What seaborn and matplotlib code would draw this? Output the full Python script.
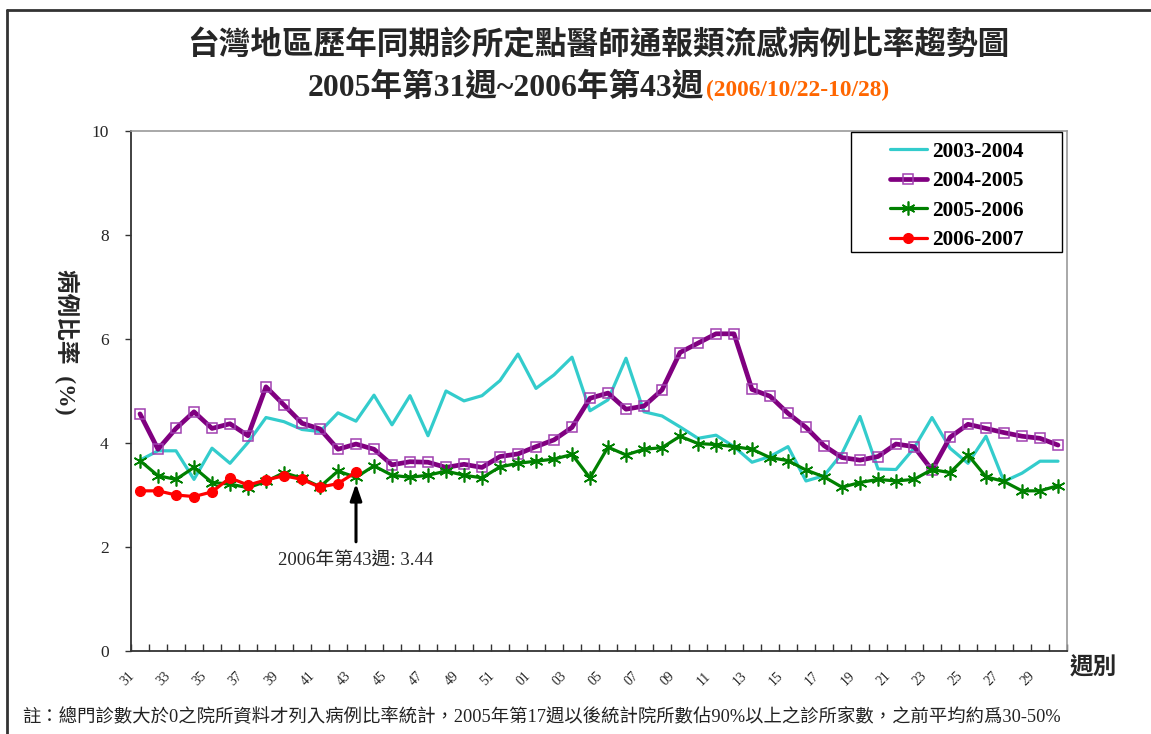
import numpy as np
import pandas as pd
import matplotlib
matplotlib.use("Agg")
import matplotlib.pyplot as plt
import seaborn as sns
from matplotlib.lines import Line2D
from matplotlib.patches import Rectangle
from matplotlib.transforms import ScaledTranslation

# ---------------- data ----------------
weeks = [f"{w:02d}" for w in list(range(31, 53)) + list(range(1, 31))]
tick_labels = weeks[::2]

s2003_2004 = [3.67, 3.85, 3.85, 3.30, 3.90, 3.61, 4.01, 4.49, 4.41, 4.26, 4.22, 4.58, 4.42,
              4.92, 4.35, 4.91, 4.14, 5.00, 4.81, 4.91, 5.20, 5.71, 5.05, 5.31, 5.65, 4.62,
              4.83, 5.63, 4.60, 4.52, 4.31, 4.09, 4.15, 3.93, 3.63, 3.74, 3.93, 3.27, 3.37,
              3.80, 4.51, 3.50, 3.49, 3.90, 4.49, 3.90, 3.61, 4.13, 3.26, 3.42, 3.65, 3.65]
s2004_2005 = [4.56, 3.88, 4.28, 4.60, 4.28, 4.37, 4.14, 5.08, 4.73, 4.38, 4.27, 3.88, 3.98,
              3.88, 3.58, 3.64, 3.63, 3.53, 3.59, 3.53, 3.74, 3.79, 3.93, 4.06, 4.30, 4.86,
              4.96, 4.65, 4.71, 5.02, 5.74, 5.92, 6.10, 6.10, 5.03, 4.90, 4.57, 4.30, 3.95,
              3.72, 3.67, 3.74, 3.98, 3.93, 3.48, 4.11, 4.36, 4.28, 4.20, 4.13, 4.09, 3.96]
s2005_2006 = [3.66, 3.37, 3.30, 3.53, 3.24, 3.21, 3.14, 3.26, 3.43, 3.32, 3.16, 3.46, 3.34,
              3.56, 3.38, 3.34, 3.38, 3.46, 3.38, 3.33, 3.54, 3.61, 3.65, 3.69, 3.78, 3.33,
              3.92, 3.77, 3.88, 3.91, 4.13, 3.99, 3.97, 3.93, 3.88, 3.72, 3.66, 3.48, 3.35,
              3.15, 3.24, 3.30, 3.27, 3.30, 3.49, 3.43, 3.77, 3.35, 3.26, 3.08, 3.08, 3.18]
s2006_2007 = [3.08, 3.08, 3.00, 2.97, 3.06, 3.33, 3.19, 3.29, 3.37, 3.30, 3.15, 3.22, 3.44]

series_names = ["2003-2004", "2004-2005", "2005-2006", "2006-2007"]

# ---------------- style ----------------
sns.set_style("white")
SERIF_CJK = ["Liberation Serif", "Noto Sans CJK TC", "DejaVu Sans"]
plt.rcParams["font.family"] = SERIF_CJK
plt.rcParams["axes.unicode_minus"] = False

fig = plt.figure(figsize=(11.51, 7.34), dpi=100)
W, H = 1151, 734
ax = fig.add_axes([131 / W, 1 - 651 / H, (1067 - 131) / W, (651 - 131) / H])

styles = {
    "2003-2004": dict(color="#33CCCC", lw=2.3, marker=None),
    "2004-2005": dict(color="#800080", lw=3.4, marker="s", ms=6.5, mfc="none",
                      mec="#A040B0", mew=1.1),
    "2005-2006": dict(color="#008000", lw=2.3, marker=(6, 2, 0), ms=10, mec="#008000",
                      mew=1.2),
    "2006-2007": dict(color="#FF0000", lw=2.3, marker="o", ms=7, mfc="#FF0000",
                      mec="#FF0000"),
}
data = dict(zip(series_names, [s2003_2004, s2004_2005, s2005_2006, s2006_2007]))

for name in series_names:
    vals = data[name]
    df = pd.DataFrame({"idx": np.arange(len(vals)), "val": vals})
    st = dict(styles[name])
    color = st.pop("color")
    lw = st.pop("lw")
    marker = st.pop("marker")
    kw = dict(color=color, linewidth=lw, label=name, sort=False, ax=ax)
    if marker is not None:
        kw.update(marker=marker, markersize=st.pop("ms"), markeredgewidth=st.pop("mew", 1))
        if "mfc" in st:
            kw["markerfacecolor"] = st.pop("mfc")
        kw["markeredgecolor"] = st.pop("mec")
    sns.lineplot(data=df, x="idx", y="val", **kw)

n = len(weeks)
ax.set_xlim(-0.5, n - 0.5)
ax.set_ylim(0, 10)
ax.set_xlabel("")
ax.set_ylabel("")

# x ticks: labels every other week, tick marks at category boundaries (inward)
ax.set_xticks(np.arange(0, n, 2))
ax.set_xticklabels(tick_labels, rotation=45, fontsize=9.8, ha="center", va="center")
ax.set_xticks(np.arange(-0.5, n, 1.0), minor=True)
ax.tick_params(axis="x", which="major", length=0, pad=20)
ax.tick_params(axis="x", which="minor", direction="in", length=5, width=1, color="#333333",
               bottom=True)
for lab in ax.get_xticklabels():
    lab.set_transform(lab.get_transform() + ScaledTranslation(-12 / 100, 0, fig.dpi_scale_trans))

ax.set_yticks(np.arange(0, 11, 2))
ax.set_yticklabels([str(v) for v in range(0, 11, 2)], fontsize=12.5)
ax.tick_params(axis="y", which="major", direction="out", length=4, width=1, color="#333333",
               left=True, pad=12)

for side in ["left", "bottom"]:
    ax.spines[side].set_color("#333333")
    ax.spines[side].set_linewidth(1.3)
for side in ["top", "right"]:
    ax.spines[side].set_color("#999999")
    ax.spines[side].set_linewidth(1.2)

# legend (content centred inside a wider box, as in the original)
box_l, box_r, box_t, box_b = 851, 1062, 132, 252
handles, labels = ax.get_legend_handles_labels()
leg = ax.legend(handles, labels, loc="center",
                bbox_to_anchor=((box_l + box_r) / 2 / W, 1 - ((box_t + box_b) / 2 + 4) / H),
                bbox_transform=fig.transFigure, frameon=False,
                prop={"family": "Liberation Serif", "weight": "bold", "size": 15.3},
                handlelength=1.75, handletextpad=0.25, labelspacing=0.45, borderpad=0)
for t in leg.get_texts():
    t.set_color("black")
fig.add_artist(Rectangle((box_l / W, 1 - box_b / H), (box_r - box_l) / W,
                         (box_b - box_t) / H, transform=fig.transFigure, fill=False,
                         edgecolor="black", lw=1.0))

# annotation for the latest point
last_i = len(s2006_2007) - 1
ax.annotate("", xy=(last_i, s2006_2007[-1] - 0.22), xytext=(last_i, 2.10),
            arrowprops=dict(arrowstyle="-|>,head_width=0.35,head_length=1.0",
                            lw=2.2, color="black", shrinkA=0, shrinkB=0))
ax.text(last_i, 1.72, f"2006年第{weeks[last_i]}週: {s2006_2007[-1]:.2f}",
        ha="center", va="center", fontsize=13.5, family=SERIF_CJK)

# titles
fig.text(598 / W, 1 - 45 / H,
         "台灣地區歷年同期診所定點醫師通報類流感病例比率趨勢圖",
         ha="center", va="center", fontsize=22.8, fontweight="bold",
         family=["Noto Sans CJK TC"])
fig.text(704 / W, 1 - 96 / H, "2005年第31週~2006年第43週",
         ha="right", va="baseline", fontsize=22.8, fontweight="bold", family=SERIF_CJK)
fig.text(706 / W, 1 - 96 / H, "(2006/10/22-10/28)",
         ha="left", va="baseline", fontsize=16.8, fontweight="bold", color="#FF6600",
         family=["Liberation Serif"])

# axis labels
fig.text(67 / W, 1 - 342 / H, "病例比率  (%)", rotation=270, ha="center", va="center",
         fontsize=17, fontweight="bold", family=SERIF_CJK)
fig.text(1093 / W, 1 - 668 / H, "週別", ha="center", va="center", fontsize=17,
         fontweight="bold", family=SERIF_CJK)

# footnote
fig.text(22 / W, 1 - 717 / H,
         "註：總門診數大於0之院所資料才列入病例比率統計，2005年第17週以後統計院所數佔90%以上之診所家數，之前平均約爲30-50%",
         ha="left", va="center", fontsize=13.2, color="#222222", family=SERIF_CJK)

# outer frame lines (left and top)
fig.add_artist(Line2D([7 / W, 7 / W], [0, 1 - 10 / H], transform=fig.transFigure,
                      color="#333333", lw=2))
fig.add_artist(Line2D([7 / W, 1], [1 - 10 / H, 1 - 10 / H], transform=fig.transFigure,
                      color="#333333", lw=2))

fig.savefig("out.png", dpi=100, facecolor="white")
